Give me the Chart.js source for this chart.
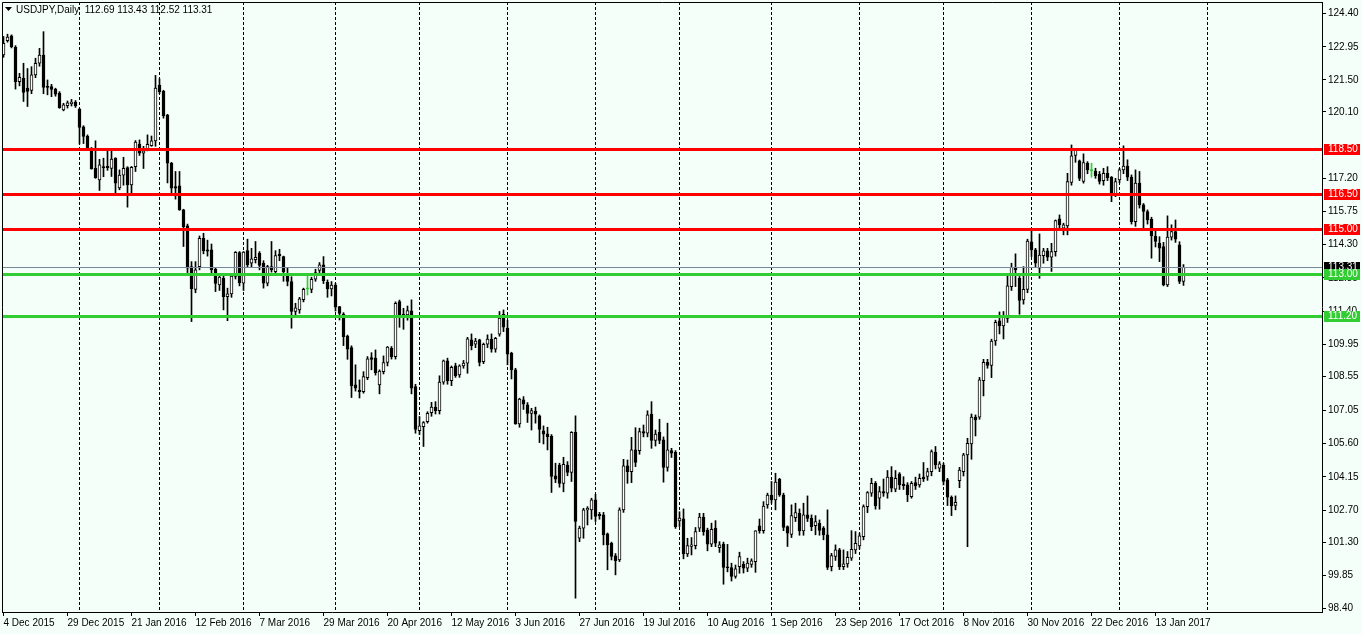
<!DOCTYPE html>
<html>
<head>
<meta charset="utf-8">
<script src="https://cdn.jsdelivr.net/npm/chart.js@4.4.1/dist/chart.umd.min.js"></script>
<style>
  html, body { margin: 0; padding: 0; background: #F5FFFA; }
  canvas { display: block; }
</style>
</head>
<body>
<canvas id="myChart" width="1362" height="634"></canvas>
<script>
// USDJPY daily candles, 4 Dec 2015 .. 25 Jan 2017 (one entry per bar)
const opens = [
  122.59,123.22,123.43,122.93,121.43,121.57,121.15,121.04,121.72,122.23,
  122.59,121.22,121.21,121.10,120.93,120.19,120.38,120.46,120.53,120.23,
  119.45,119.04,118.49,117.64,117.13,117.71,117.72,117.63,118.08,116.78,
  117.34,117.67,116.91,117.71,118.70,118.30,118.44,118.63,118.84,121.28,
  121.00,119.97,117.86,116.84,116.87,115.82,115.12,113.34,112.35,113.34,
  114.58,114.07,114.07,113.23,112.54,112.83,112.03,112.15,112.91,113.96,
  112.62,114.04,113.49,113.64,113.93,113.49,112.62,113.34,113.12,113.88,
  113.78,113.05,112.69,111.38,111.45,111.90,112.37,112.35,112.79,113.17,
  113.42,112.66,112.37,112.54,111.60,111.27,110.31,109.80,108.17,107.95,
  107.88,108.49,109.37,109.34,108.17,108.75,109.15,109.77,109.41,111.81,
  111.16,111.23,111.41,108.10,106.17,106.35,106.57,106.96,107.20,107.05,
  108.29,109.22,108.36,109.00,108.61,109.00,109.12,110.14,109.95,110.14,
  109.19,109.95,110.17,109.73,110.39,111.26,110.65,109.56,108.83,106.47,
  107.52,107.30,106.93,107.03,106.82,106.16,106.03,105.94,104.20,104.67,
  103.87,104.67,104.35,106.10,101.47,101.91,102.71,102.71,103.15,102.52,
  102.49,101.66,101.25,100.70,100.52,102.71,104.63,104.38,105.33,105.30,
  106.13,106.06,106.90,105.74,106.10,105.77,104.56,105.30,105.23,102.23,
  102.32,100.78,101.11,101.15,101.91,102.39,101.83,101.21,101.91,101.06,
  101.21,100.20,100.19,99.80,100.23,100.33,100.16,100.33,100.45,102.01,
  101.80,102.93,103.36,103.14,104.05,103.36,101.98,101.64,102.37,102.56,
  101.79,102.49,102.34,102.02,102.12,101.91,101.62,100.23,100.67,100.96,
  100.23,100.35,100.60,100.96,101.13,101.54,102.85,103.44,103.87,103.22,
  103.51,103.44,104.14,103.61,104.28,103.84,103.80,103.29,103.90,103.80,
  104.14,104.17,104.38,105.23,104.53,104.67,104.02,103.26,102.90,103.99,
  104.38,105.11,105.59,106.76,106.76,108.36,109.16,109.02,110.09,110.97,
  110.75,111.08,112.47,113.31,112.83,111.89,112.35,114.42,114.07,113.27,
  113.82,114.03,113.75,114.00,115.43,115.02,115.12,117.02,118.20,117.96,
  117.06,117.86,117.54,117.52,117.38,117.10,117.42,117.25,116.51,117.13,
  117.57,117.74,117.25,115.31,116.99,116.04,115.75,115.41,114.68,114.36,
  114.22,112.54,114.63,114.87,114.29,112.69
];
const highs = [
  123.40,123.50,123.47,123.00,121.79,122.23,122.00,122.08,122.45,122.88,
  123.61,121.50,121.31,121.14,120.99,120.48,120.58,120.65,120.60,120.26,
  119.50,119.10,118.55,118.84,118.03,118.08,118.40,118.38,118.10,117.57,
  118.12,117.71,117.72,118.85,118.88,118.60,119.10,119.05,121.70,121.55,
  121.05,120.00,117.90,117.50,117.50,115.85,115.20,113.56,113.56,114.68,
  114.80,114.50,114.33,113.27,113.00,112.97,112.40,112.98,114.00,114.00,
  114.00,114.54,114.14,114.44,114.00,113.60,113.40,114.44,114.04,114.10,
  113.80,113.27,112.90,111.74,112.00,112.40,112.95,112.88,113.23,113.52,
  113.78,112.76,112.69,112.61,111.60,111.33,110.35,109.88,109.05,108.39,
  108.75,109.41,109.58,109.70,108.83,109.44,109.85,109.85,111.80,111.88,
  111.52,111.62,111.89,108.20,106.79,106.57,107.00,107.41,107.44,108.57,
  109.26,109.34,109.00,109.12,109.05,109.24,110.25,110.40,110.21,110.17,
  110.00,110.36,110.40,110.25,111.38,111.45,111.00,109.60,108.90,107.59,
  107.66,107.40,107.15,107.20,106.86,106.38,106.32,106.00,104.75,104.75,
  105.01,104.82,106.13,106.82,102.00,102.78,102.85,103.22,103.39,102.60,
  102.60,101.70,101.30,100.80,102.80,104.92,104.89,105.88,106.30,106.28,
  106.42,107.04,107.44,106.20,106.67,105.90,106.50,105.40,105.30,102.63,
  102.75,101.47,101.50,101.94,102.56,102.56,101.91,102.13,102.24,101.32,
  101.30,101.20,100.38,100.30,100.86,100.45,100.60,100.57,101.80,102.31,
  103.07,103.44,103.95,104.31,104.09,103.44,102.01,102.93,103.00,102.75,
  103.00,103.32,102.49,102.46,102.27,101.98,102.71,100.81,101.18,101.03,
  100.96,100.89,101.80,101.76,101.69,102.93,103.51,104.09,103.95,103.73,
  104.06,104.43,104.60,104.43,104.34,104.16,103.90,103.95,104.14,104.28,
  104.78,104.53,105.33,105.48,104.82,104.75,104.09,103.32,103.32,104.57,
  105.18,105.84,106.90,106.86,108.50,109.29,109.29,110.17,111.00,111.36,
  111.38,112.98,113.49,113.90,112.91,113.34,114.54,114.92,114.14,114.77,
  114.14,114.14,114.36,115.38,115.60,115.24,117.42,118.66,118.50,118.00,
  118.27,117.93,117.86,117.64,117.50,117.64,117.71,117.28,117.20,117.64,
  118.62,118.01,117.35,117.57,117.50,116.10,115.82,115.50,114.95,114.65,
  114.40,115.56,115.17,115.38,114.43,113.43
];
const lows = [
  122.49,123.15,122.90,121.10,121.24,120.56,120.34,120.90,121.60,122.10,
  120.90,120.85,120.77,120.79,120.26,120.15,120.27,120.36,120.30,118.70,
  118.72,118.45,117.60,117.20,116.67,117.27,117.55,117.28,116.48,116.70,
  116.90,115.94,116.48,117.50,118.20,117.63,118.40,118.60,118.60,120.90,
  119.83,117.00,116.50,116.29,115.80,114.22,113.08,110.94,112.20,113.20,
  113.90,113.80,113.05,112.25,112.30,111.45,110.98,112.00,112.80,112.50,
  112.30,113.30,113.30,113.50,113.20,112.40,112.50,113.10,113.00,113.60,
  112.70,112.50,110.65,111.16,111.30,111.80,112.10,112.20,112.70,113.08,
  112.60,112.00,112.06,111.40,111.01,109.89,109.29,107.62,107.90,107.60,
  107.81,108.40,108.83,108.60,107.78,108.65,109.00,109.30,109.30,110.69,
  110.60,111.00,107.78,106.06,106.00,105.48,106.50,106.80,106.90,106.90,
  108.20,108.20,108.14,108.50,108.50,108.90,108.68,109.70,109.80,109.00,
  109.10,109.80,109.60,109.60,110.30,110.50,109.05,108.43,106.45,106.32,
  107.10,106.53,106.20,106.50,105.65,105.59,105.33,103.47,103.90,103.70,
  103.50,104.20,103.95,98.85,101.32,101.47,102.05,102.30,102.20,102.30,
  101.18,100.09,100.52,99.87,100.45,102.60,103.87,103.90,104.60,105.14,
  105.90,105.90,105.40,105.50,105.60,103.92,104.40,105.00,101.90,101.98,
  100.57,100.67,100.74,101.00,101.76,101.60,100.92,101.10,101.10,100.85,
  99.46,100.00,99.60,99.72,99.94,99.95,100.01,100.20,99.98,101.69,
  101.69,102.78,103.00,102.71,103.30,101.80,101.11,101.50,102.20,101.60,
  101.60,102.20,101.80,101.62,101.60,101.40,100.10,100.04,100.50,100.10,
  100.10,100.20,100.50,100.80,101.00,101.40,102.59,103.30,102.74,102.74,
  103.30,103.22,103.50,103.50,103.60,103.60,103.07,103.22,103.60,103.70,
  103.95,104.00,104.20,104.50,104.38,103.80,102.90,102.46,102.71,103.68,
  104.19,101.10,104.92,105.94,106.67,107.69,108.90,108.49,109.90,110.40,
  110.18,110.90,112.30,112.47,111.26,111.70,112.20,113.78,113.30,112.83,
  113.49,113.60,113.13,113.80,115.00,114.73,114.73,116.90,117.90,117.10,
  116.99,117.40,117.25,117.20,116.95,116.90,117.10,116.18,116.40,117.00,
  117.40,117.10,115.20,115.10,115.90,115.02,115.20,113.71,114.20,113.56,
  112.50,112.47,114.50,114.40,112.60,112.52
];
const closes = [
  123.10,123.37,122.96,121.43,121.62,120.95,121.00,121.72,122.23,122.59,
  121.17,121.17,121.09,120.88,120.29,120.41,120.50,120.53,120.36,119.42,
  119.03,118.47,117.61,117.23,117.79,117.66,117.67,118.04,116.99,117.34,
  117.64,116.91,117.68,118.78,118.30,118.40,118.69,118.84,121.14,120.99,
  119.94,117.86,116.77,116.77,115.82,115.09,113.27,112.38,113.20,114.58,
  114.03,114.02,113.20,112.61,112.88,112.03,112.15,112.93,113.97,112.64,
  113.98,113.42,113.68,113.75,113.39,112.62,113.34,113.20,113.82,113.82,
  113.12,112.69,111.38,111.54,111.93,112.35,112.37,112.79,113.08,113.42,
  112.73,112.37,112.54,111.57,111.30,110.28,109.73,108.13,108.03,107.88,
  108.54,109.31,109.29,108.71,108.78,109.15,109.82,109.41,111.74,111.19,
  111.26,111.42,108.03,106.23,106.38,106.53,106.93,107.20,107.05,108.29,
  109.22,108.36,108.94,108.58,109.00,109.12,110.18,109.89,110.09,109.15,
  109.95,110.17,109.73,110.21,111.09,110.69,109.51,108.83,106.47,107.55,
  107.33,106.93,107.05,106.89,106.23,106.02,105.91,104.17,104.05,103.87,
  104.70,104.35,106.10,102.20,101.91,102.71,102.78,103.15,102.42,102.46,
  101.62,101.18,100.67,100.49,102.71,104.63,104.38,105.33,104.78,106.13,
  106.06,106.86,105.74,106.02,105.74,104.56,105.33,105.19,101.98,102.35,
  100.78,101.15,101.18,101.76,102.39,101.76,101.21,101.86,101.25,101.18,
  100.19,100.18,99.80,100.13,100.67,100.16,100.38,100.48,101.79,101.80,
  102.88,103.36,103.14,103.92,103.36,101.94,101.69,102.46,102.59,101.79,
  102.49,102.34,101.98,102.20,101.81,101.62,100.19,100.71,100.96,100.23,
  100.35,100.64,100.99,101.25,101.57,102.85,103.47,103.87,102.88,103.51,
  103.44,104.14,103.66,104.09,103.80,103.77,103.36,103.87,103.76,104.09,
  104.06,104.38,105.26,104.67,104.72,103.95,103.26,102.88,103.04,104.45,
  105.11,105.62,106.76,106.64,108.39,109.16,109.02,110.09,110.91,110.75,
  111.13,112.50,113.31,113.20,111.86,112.35,114.46,114.07,113.49,113.85,
  114.03,113.75,114.00,115.35,115.17,115.17,117.06,118.18,118.43,117.20,
  117.89,117.57,117.54,117.32,117.06,117.42,117.23,116.55,117.06,117.57,
  117.74,117.25,115.31,116.99,116.04,115.75,115.38,114.68,114.44,114.15,
  112.54,114.63,114.87,114.54,112.69,113.31
];

// time axis labels (one every 16 bars, starting at bar 0)
const dateLabels = [
  '4 Dec 2015', '29 Dec 2015', '21 Jan 2016', '12 Feb 2016', '7 Mar 2016',
  '29 Mar 2016', '20 Apr 2016', '12 May 2016', '3 Jun 2016', '27 Jun 2016',
  '19 Jul 2016', '10 Aug 2016', '1 Sep 2016', '23 Sep 2016', '17 Oct 2016',
  '8 Nov 2016', '30 Nov 2016', '22 Dec 2016', '13 Jan 2017'
];
const labelStep = 16;
// first bar of each month (period separators)
const monthStarts = [19, 39, 60, 83, 104, 126, 148, 169, 192, 214, 235, 257, 279, 301];

// price axis labels
const priceTicks = [124.40, 122.95, 121.50, 120.10, 117.20, 115.75, 114.30, 112.85,
  111.40, 109.95, 108.55, 107.05, 105.60, 104.15, 102.70, 101.30, 99.85, 98.40];

// horizontal levels
const resistance = [118.50, 116.50, 115.00];
const support = [113.00, 111.20];
const lastPrice = 113.31;
const titleText = 'USDJPY,Daily  112.69 113.43 112.52 113.31';

const BG = '#F5FFFA';
const DOJI = '#32CD32';
const FONT = '10px "Liberation Sans", Arial, sans-serif';

const isDoji = i => opens[i] === closes[i];

const wickData = opens.map((o, i) => ({ x: i, y: [lows[i], highs[i]] }));
const bodyData = opens.map((o, i) => ({ x: i, y: [opens[i], closes[i]] }));

// no automatic label padding: the plot area is fixed by hand
const noPadding = scale => {
  scale.paddingLeft = 0;
  scale.paddingRight = 0;
  scale.paddingTop = 0;
  scale.paddingBottom = 0;
};

const bgPlugin = {
  id: 'bg',
  beforeDraw(chart) {
    const ctx = chart.ctx;
    ctx.save();
    ctx.fillStyle = BG;
    ctx.fillRect(0, 0, chart.width, chart.height);
    ctx.restore();
  }
};

const separatorPlugin = {
  id: 'separators',
  beforeDatasetsDraw(chart) {
    const { ctx, chartArea, scales } = chart;
    ctx.save();
    ctx.strokeStyle = '#000';
    ctx.lineWidth = 1;
    ctx.setLineDash([3, 2]);
    monthStarts.forEach(m => {
      const x = Math.floor(scales.x.getPixelForValue(m)) + 0.5;
      ctx.beginPath();
      ctx.moveTo(x, chartArea.top);
      ctx.lineTo(x, chartArea.bottom);
      ctx.stroke();
    });
    ctx.restore();
  }
};

function levelBox(ctx, y, fill, text) {
  ctx.fillStyle = fill;
  ctx.fillRect(1324, Math.round(y) - 5, 36, 11);
  ctx.fillStyle = '#fff';
  ctx.fillText(text, 1328, Math.round(y) + 0.5);
}

const levelPlugin = {
  id: 'levels',
  afterDatasetsDraw(chart) {
    const { ctx, chartArea, scales } = chart;
    ctx.save();
    // bid line
    const y = Math.floor(scales.y.getPixelForValue(lastPrice)) + 0.5;
    ctx.strokeStyle = '#778899';
    ctx.lineWidth = 1;
    ctx.beginPath();
    ctx.moveTo(chartArea.left, y);
    ctx.lineTo(chartArea.right, y);
    ctx.stroke();
    ctx.lineWidth = 3;
    resistance.forEach(v => {
      const yy = Math.round(scales.y.getPixelForValue(v)) + 0.5;
      ctx.strokeStyle = '#FF0000';
      ctx.beginPath();
      ctx.moveTo(chartArea.left, yy);
      ctx.lineTo(chartArea.right, yy);
      ctx.stroke();
    });
    support.forEach(v => {
      const yy = Math.round(scales.y.getPixelForValue(v)) + 0.5;
      ctx.strokeStyle = DOJI;
      ctx.beginPath();
      ctx.moveTo(chartArea.left, yy);
      ctx.lineTo(chartArea.right, yy);
      ctx.stroke();
    });
    ctx.restore();
  },
  afterDraw(chart) {
    const { ctx, chartArea, scales } = chart;
    ctx.save();
    ctx.font = FONT;
    ctx.textBaseline = 'middle';
    ctx.textAlign = 'left';
    levelBox(ctx, scales.y.getPixelForValue(lastPrice), '#000', lastPrice.toFixed(2));
    resistance.forEach(v => levelBox(ctx, scales.y.getPixelForValue(v), '#FF0000', v.toFixed(2)));
    support.forEach(v => levelBox(ctx, scales.y.getPixelForValue(v), DOJI, v.toFixed(2)));

    // frame left / top
    ctx.strokeStyle = '#000';
    ctx.lineWidth = 1;
    ctx.beginPath();
    ctx.moveTo(chartArea.left + 0.5, chartArea.bottom);
    ctx.lineTo(chartArea.left + 0.5, chartArea.top + 0.5);
    ctx.lineTo(chartArea.right, chartArea.top + 0.5);
    ctx.stroke();

    // title
    ctx.fillStyle = '#000';
    ctx.beginPath();
    ctx.moveTo(5, 7);
    ctx.lineTo(12, 7);
    ctx.lineTo(8.5, 11);
    ctx.closePath();
    ctx.fill();
    ctx.fillText(titleText, 16, 10);
    ctx.restore();
  }
};

const ctx = document.getElementById('myChart').getContext('2d');
const myChart = new Chart(ctx, {
  type: 'bar',
  data: {
    datasets: [
      {
        label: 'body',
        data: bodyData,
        grouped: false,
        barThickness: 3,
        minBarLength: 1,
        borderWidth: 1,
        borderSkipped: false,
        backgroundColor: c => isDoji(c.dataIndex) ? DOJI : (closes[c.dataIndex] > opens[c.dataIndex] ? '#fff' : '#000'),
        borderColor: c => isDoji(c.dataIndex) ? DOJI : '#000',
        order: 1
      },
      {
        label: 'wick',
        data: wickData,
        grouped: false,
        barThickness: 1,
        borderWidth: 0,
        backgroundColor: c => isDoji(c.dataIndex) ? DOJI : '#000',
        order: 2
      }
    ]
  },
  options: {
    responsive: false,
    devicePixelRatio: 1,
    animation: false,
    layout: { padding: { left: 2, top: 2, right: 0, bottom: 0 } },
    plugins: { legend: { display: false }, tooltip: { enabled: false } },
    scales: {
      x: {
        type: 'linear',
        offset: false,
        bounds: 'data',
        min: -0.375,
        max: 329.625,
        afterBuildTicks: scale => { scale.ticks = dateLabels.map((d, k) => ({ value: k * labelStep })); },
        afterFit: scale => { scale.height = 22; noPadding(scale); },
        ticks: {
          autoSkip: false,
          maxRotation: 0,
          align: 'start',
          padding: 1,
          color: '#000',
          font: { family: '"Liberation Sans", Arial, sans-serif', size: 10 },
          callback: v => dateLabels[Math.round(v / labelStep)]
        },
        grid: { offset: false, drawOnChartArea: false, tickLength: 4, color: '#000' },
        border: { display: true, color: '#000' }
      },
      y: {
        position: 'right',
        min: 98.246,
        max: 124.907,
        afterBuildTicks: scale => { scale.ticks = priceTicks.map(v => ({ value: v })); },
        afterFit: scale => { scale.width = 40; noPadding(scale); },
        ticks: {
          padding: 2,
          color: '#000',
          font: { family: '"Liberation Sans", Arial, sans-serif', size: 10 },
          callback: v => v.toFixed(2)
        },
        grid: { drawOnChartArea: false, tickLength: 4, color: '#000' },
        border: { display: true, color: '#000' }
      }
    }
  },
  plugins: [bgPlugin, separatorPlugin, levelPlugin]
});
</script>
</body>
</html>
